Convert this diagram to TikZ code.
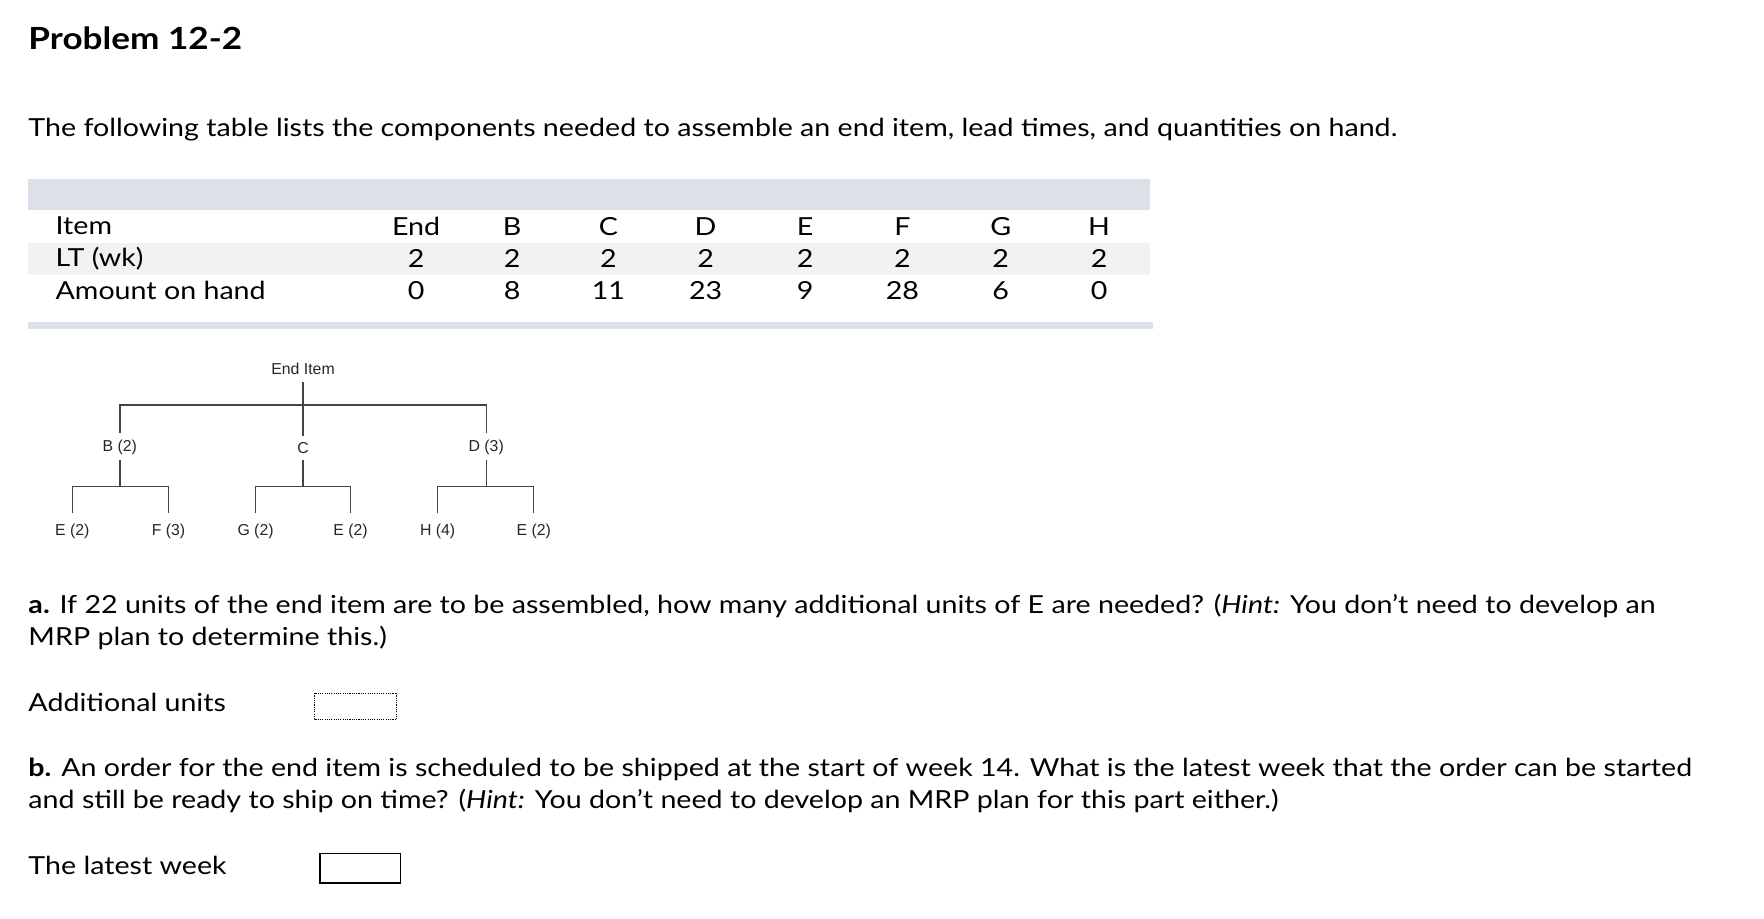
\documentclass[tikz,border=0pt]{standalone}
\usepackage{fontspec}
\setmainfont{Lato}[FakeStretch=1.15]
\newfontfamily\treefont{Liberation Sans}
\definecolor{barc}{HTML}{DCE0E9}
\definecolor{stripe}{HTML}{F2F2F2}
\definecolor{treeline}{HTML}{444444}
\begin{document}
\begin{tikzpicture}[x=1pt,y=-1pt,
  body/.style={anchor=west,inner sep=0pt,font=\fontsize{22}{26}\selectfont},
  cell/.style={inner sep=0pt,font=\fontsize{22}{26}\selectfont},
  leaf/.style={inner sep=1pt,font=\treefont\fontsize{14}{16}\selectfont,text=black!85},
  br/.style={draw=treeline,line width=1.2pt}]
\useasboundingbox (0,0) rectangle (1560,812);
% title
\node[body,font=\bfseries\fontsize{27}{30}\selectfont] (title) at (25,34) {Problem 12-2};
\node[body] (intro) at (25,115) {The following table lists the components needed to assemble an end item, lead times, and quantities on hand.};
% table
\fill[barc] (25,158) rectangle (1017,186);
\fill[stripe] (25,215) rectangle (1017,243);
\fill[barc] (25,285) rectangle (1020,291);
\node[body] (r1) at (49,200) {Item};
\node[body] (r2) at (49,229) {LT (wk)};
\node[body] (r3) at (49,257) {Amount on hand};
\foreach \x/\a/\b/\c [count=\i] in {368/End/2/0,453/B/2/8,538/C/2/11,624/D/2/23,712/E/2/9,798/F/2/28,885/G/2/6,972/H/2/0}{
  \node[cell] (h\i) at (\x,200) {\a};
  \node[cell] (l\i) at (\x,229) {\b};
  \node[cell] (q\i) at (\x,257) {\c};
}
% tree
\node[leaf] (end) at (268,326) {End Item};
\node[leaf] (b) at (106,396) {B (2)};
\node[leaf] (c) at (268,396) {C};
\node[leaf] (d) at (430,396) {D (3)};
\node[leaf] (e1) at (64,470) {E (2)};
\node[leaf] (f) at (149,470) {F (3)};
\node[leaf] (g) at (226,470) {G (2)};
\node[leaf] (e2) at (310,470) {E (2)};
\node[leaf] (h) at (387,470) {H (4)};
\node[leaf] (e3) at (472,470) {E (2)};
\coordinate (endbot) at (268,338);
\coordinate (ctop) at (268,386);
\draw[br] (endbot) -- (ctop);
\draw[br] (106,383) -- (106,358) -- (430,358) -- (430,383);
\foreach \x/\l/\r in {106/64/149,268/226/310,430/387/472}{
  \draw[br] (\x,407) -- (\x,430);
  \draw[br] (\l,454) -- (\l,430) -- (\r,430) -- (\r,454);
}
% questions
\node[body] (qa1) at (25,536) {\textbf{a.} If 22 units of the end item are to be assembled, how many additional units of E are needed? (\textit{Hint:} You don't need to develop an};
\node[body] (qa2) at (25,564) {MRP plan to determine this.)};
\node[body] (au) at (25,621) {Additional units};
\draw[densely dotted,line width=1pt] (278,613) rectangle (351,636);
\node[body] (qb1) at (25,680) {\textbf{b.} An order for the end item is scheduled to be shipped at the start of week 14. What is the latest week that the order can be started};
\node[body] (qb2) at (25,708) {and still be ready to ship on time? (\textit{Hint:} You don't need to develop an MRP plan for this part either.)};
\node[body] (lw) at (25,765) {The latest week};
\draw[line width=1.3pt] (283,755) rectangle (354,781);
\end{tikzpicture}
\end{document}
